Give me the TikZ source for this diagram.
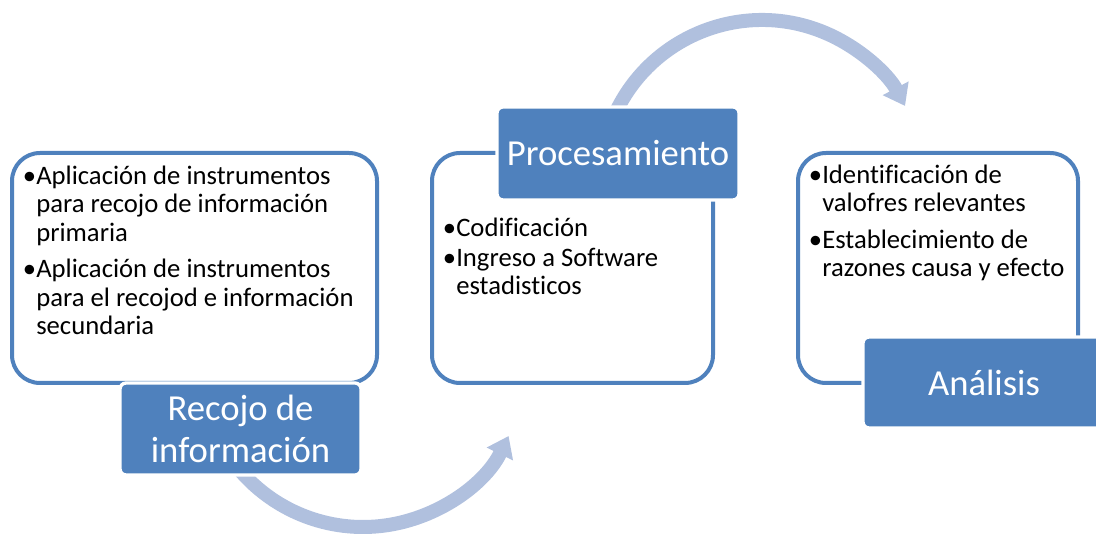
\documentclass[tikz,border=0pt]{standalone}
\usepackage{fontspec}
\setmainfont{Carlito}[Ligatures=NoCommon]
\usetikzlibrary{arrows.meta}
\begin{document}
\begin{tikzpicture}[x=0.75pt,y=0.75pt,yscale=-1,xscale=1,
  panel/.style={draw={rgb,255:red,79;green,129;blue,189}, line width=3pt, fill=white, rounded corners=21pt, inner sep=0pt},
  tag/.style={draw=white, line width=2.5pt, fill={rgb,255:red,79;green,129;blue,189}, rounded corners=4.5pt, text=white, font=\fontsize{27.5}{31.5}\selectfont, align=center, inner sep=0pt},
  bullets/.style={anchor=base west, inner sep=0pt, align=left, font=\fontsize{20}{21.4}\selectfont},
  cyclearrow/.style={draw={rgb,255:red,176;green,192;blue,222}, line width=10.5pt, -{Triangle[width=21pt,length=15pt]}}
]
\useasboundingbox (0,0) rectangle (1096,534);

%Curved arrows behind the boxes
\coordinate (hub1) at (363,365);
\coordinate (hub2) at (762,182);
\draw [cyclearrow] ([shift={(140:162)}]hub1) arc [start angle=140, end angle=26, radius=162];
\draw [cyclearrow] ([shift={(205:162)}]hub2) arc [start angle=205, end angle=332, radius=162];

%Shape: Rounded boxes
\node [panel, minimum width=273.75pt, minimum height=172.5pt] (recojoBox) at (194.5,268) {};
\node [panel, minimum width=210.75pt, minimum height=172.5pt] (procesoBox) at (572.5,268) {};
\node [panel, minimum width=210pt, minimum height=172.5pt] (analisisBox) at (938,268) {};

%Shape: Title tags
\node [tag, minimum width=180.75pt, minimum height=69pt] (recojoTag) at (240.5,429) {Recojo de\\información};
\node [tag, minimum width=181.5pt, minimum height=69.75pt] (procesoTag) at (618,153.5) {Procesamiento};
\node [tag, minimum width=181.5pt, minimum height=68.25pt] (analisisTag) at (984,382.5) {Análisis};

% Text Node (anchored at the last baseline)
\node [bullets] (recojoText) at (36,335) {\llap{•}Aplicación de instrumentos\\para recojo de información\\primaria\\[6pt]\llap{•}Aplicación de instrumentos\\para el recojod e información\\secundaria};
% Text Node
\node [bullets] (procesoText) at (456,295) {\llap{•}Codificación\\[1pt]\llap{•}Ingreso a Software\\estadisticos};
% Text Node
\node [bullets] (analisisText) at (822,277) {\llap{•}Identificación de\\valofres relevantes\\[6pt]\llap{•}Establecimiento de\\razones causa y efecto};

\end{tikzpicture}
\end{document}
